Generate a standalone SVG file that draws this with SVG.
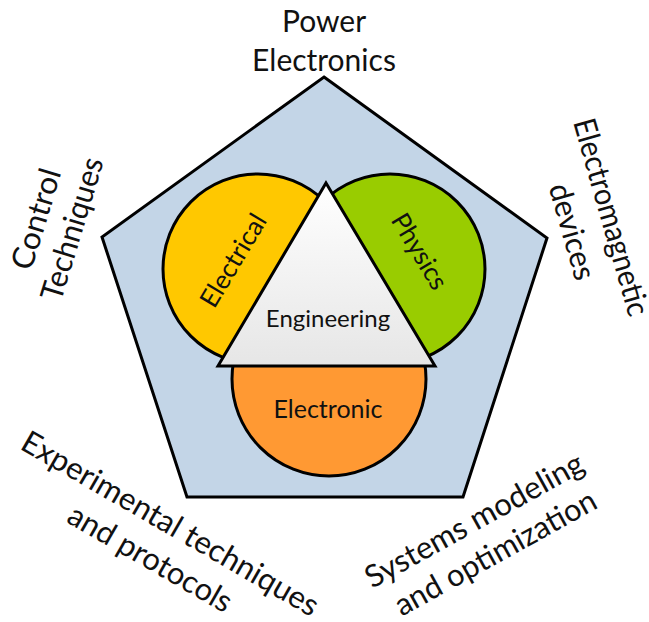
<svg xmlns="http://www.w3.org/2000/svg" width="649" height="622" viewBox="0 0 649 622">
  <style>
    .outline { stroke: #000; stroke-width: 3; stroke-linejoin: miter; }
    .label { font-family: Lato, "Open Sans", sans-serif; fill: #111; text-anchor: middle; }
    .outer { font-size: 31px; }
    .inner { font-size: 24px; }
    .side { font-size: 26px; }
  </style>
  <defs>
    <linearGradient id="triFill" x1="0" y1="0" x2="0" y2="1">
      <stop offset="0" stop-color="#ffffff"/>
      <stop offset="1" stop-color="#e6e6e6"/>
    </linearGradient>
  </defs>

  <rect width="649" height="622" fill="#ffffff"/>

  <!-- outer pentagon -->
  <g id="pentagon">
    <polygon class="outline" fill="#c3d5e7" points="324,77 547,238 463,497 187,497 102,237"/>
  </g>

  <!-- discipline circles, partly covered by the triangle -->
  <g id="electrical">
    <circle class="outline" fill="#ffc800" cx="258" cy="269" r="95"/>
  </g>
  <g id="physics">
    <circle class="outline" fill="#99cc00" cx="390" cy="269" r="95"/>
  </g>
  <g id="electronic">
    <circle class="outline" fill="#ff9933" cx="329" cy="379" r="97"/>
  </g>

  <!-- central triangle -->
  <g id="engineering">
    <polygon class="outline" fill="url(#triFill)" points="326,183 435,366 218,366"/>
    <text class="label inner" x="328" y="327">Engineering</text>
  </g>

  <!-- circle labels -->
  <g id="electrical-label">
    <text class="label side" transform="translate(241,265) rotate(-59)">Electrical</text>
  </g>
  <g id="physics-label">
    <text class="label side" transform="translate(412,256) rotate(59)">Physics</text>
  </g>
  <g id="electronic-label">
    <text class="label inner" x="328" y="418" style="font-size:25px">Electronic</text>
  </g>

  <!-- labels around the pentagon -->
  <g id="power-electronics">
    <text class="label outer" x="324" y="32" style="font-size:30px">Power</text>
    <text class="label outer" x="324" y="71" style="font-size:30px">Electronics</text>
  </g>
  <g id="control-techniques">
    <text class="label outer" transform="translate(46.3,222.1) rotate(-73)" textLength="104" lengthAdjust="spacingAndGlyphs">Control</text>
    <text class="label outer" transform="translate(82.3,231.9) rotate(-73)" textLength="148" lengthAdjust="spacingAndGlyphs">Techniques</text>
  </g>
  <g id="electromagnetic-devices">
    <text class="label outer" transform="translate(601,220) rotate(74)" textLength="204" lengthAdjust="spacingAndGlyphs">Electromagnetic</text>
    <text class="label outer" transform="translate(562.1,234.5) rotate(74)" textLength="99" lengthAdjust="spacingAndGlyphs">devices</text>
  </g>
  <g id="experimental-techniques">
    <text class="label outer" transform="translate(165,532.7) rotate(30)" textLength="338" lengthAdjust="spacingAndGlyphs">Experimental techniques</text>
    <text class="label outer" transform="translate(145,567.5) rotate(30)" textLength="184" lengthAdjust="spacingAndGlyphs">and protocols</text>
  </g>
  <g id="systems-modeling">
    <text class="label outer" transform="translate(479.3,529.5) rotate(-29)" textLength="245" lengthAdjust="spacingAndGlyphs">Systems modeling</text>
    <text class="label outer" transform="translate(500.5,562) rotate(-29)" textLength="226" lengthAdjust="spacingAndGlyphs">and optimization</text>
  </g>
</svg>
